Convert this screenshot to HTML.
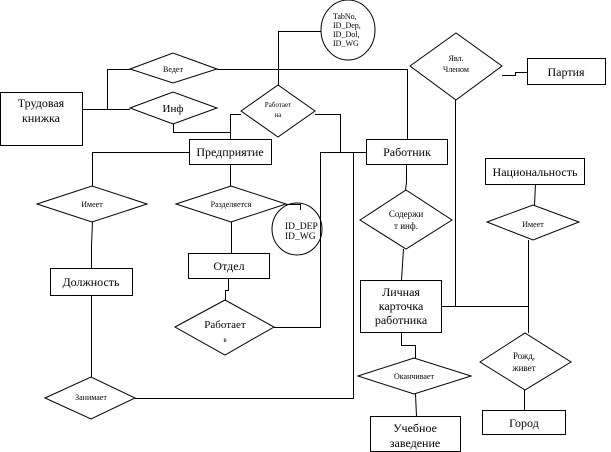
<!DOCTYPE html>
<html><head><meta charset="utf-8"><style>
html,body{margin:0;padding:0;background:#fff;}
svg{display:block;font-family:"Liberation Serif","DejaVu Serif",serif;}
text{font-family:"Liberation Serif","DejaVu Serif",serif;}
</style></head><body>
<svg width="611" height="452" viewBox="0 0 611 452" xmlns="http://www.w3.org/2000/svg">
<g fill="none" stroke="#000" stroke-width="1">
<rect x="0.5" y="92.5" width="82" height="53"/>
<rect x="189.5" y="139.5" width="82" height="25"/>
<rect x="366.5" y="139.5" width="81" height="25"/>
<rect x="527.5" y="58.5" width="78" height="26"/>
<rect x="485.5" y="158.5" width="99" height="26"/>
<rect x="188.5" y="253.5" width="81" height="25"/>
<rect x="50.5" y="268.5" width="82" height="27"/>
<rect x="360.5" y="280.5" width="81" height="52"/>
<rect x="370.5" y="416.5" width="90" height="35"/>
<rect x="482.5" y="410.5" width="83" height="24"/>
<ellipse cx="348" cy="30" rx="27" ry="30"/>
<ellipse cx="297" cy="229" rx="25" ry="26"/>
<polygon points="130,69 173,53 217,69 173,83"/>
<polygon points="130,108 173,92 217,108 173,124"/>
<polygon points="241,111 278,85 315,111 278,137"/>
<polygon points="410,66 456,33 502,66 456,100"/>
<polygon points="37,204 92,186 147,204 92,222"/>
<polygon points="176,204 231,186 286,204 231,222"/>
<polygon points="360,220 406,190 452,220 406,249"/>
<polygon points="487,222 533,205 579,222 533,240"/>
<polygon points="175,327 225,300 274,327 225,355"/>
<polygon points="45,398 91,377 135,398 91,419"/>
<polygon points="358,376 414,358 471,376 414,394"/>
<polygon points="480,362 525,333 571,362 525,390"/>
<polyline points="82.5,109.5 107.5,109.5 107.5,69.5 130,69.5"/>
<polyline points="107.5,109.5 130,109.5"/>
<polyline points="173.5,124 173.5,132.5 230.5,132.5"/>
<polyline points="217,69.5 407.5,69.5 407.5,139"/>
<polyline points="278.5,85 278.5,31.5 321,31.5"/>
<polyline points="241,114.5 230.5,114.5 230.5,139"/>
<polyline points="315,114.5 340.5,114.5 340.5,152.5"/>
<polyline points="366,152.5 320.5,152.5 320.5,327.5 274,327.5"/>
<polyline points="340.5,152.5 353.5,152.5 353.5,398.5 135,398.5"/>
<polyline points="189,152.5 92.5,152.5 92.5,186"/>
<polyline points="230.5,164 230.5,186"/>
<polyline points="286,204.5 300.5,204.5 300.5,210"/>
<polyline points="92.5,222 91.5,245 91.5,268"/>
<polyline points="231.5,222 231.5,253"/>
<polyline points="228.5,278 228.5,290.5 225.5,290.5 225.5,300"/>
<polyline points="91.5,295 91.5,377"/>
<polyline points="502,75.5 515.5,75.5 515.5,72.5 527,72.5"/>
<polyline points="455.5,100 455.5,306.5"/>
<polyline points="441,306.5 528.5,306.5 528.5,240"/>
<polyline points="535.5,184 534.5,205"/>
<polyline points="406.5,164 406.5,182 405.5,190"/>
<polyline points="403.5,249 401.5,280"/>
<polyline points="401.5,332 401.5,345.5 415.5,345.5 415.5,358"/>
<polyline points="415.5,394 416.5,416"/>
<polyline points="528.5,306.5 528.5,333"/>
<polyline points="524.5,390 524.5,410"/>
</g>
<g fill="#000" text-anchor="middle" font-size="12" font-family="Liberation Serif, serif">
<text x="41" y="107">Трудовая</text>
<text x="41" y="122">книжка</text>
<text x="230" y="156">Предприятие</text>
<text x="407" y="156">Работник</text>
<text x="566" y="76">Партия</text>
<text x="535" y="176">Национальность</text>
<text x="229" y="270">Отдел</text>
<text x="91" y="286">Должность</text>
<text x="401" y="296">Личная</text>
<text x="401" y="310">карточка</text>
<text x="401" y="324">работника</text>
<text x="415" y="432">Учебное</text>
<text x="415" y="447">заведение</text>
<text x="524" y="427">Город</text>
<text x="173" y="112" font-size="11">Инф</text>
<text x="225" y="328" font-size="11">Работает</text>
<text x="225" y="342" font-size="7">в</text>
<text x="406" y="217" font-size="9">Содержи</text>
<text x="406" y="229" font-size="9">т инф.</text>
<text x="524" y="359" font-size="9">Рожд,</text>
<text x="524" y="371" font-size="9">живет</text>
</g>
<g fill="#000" text-anchor="middle" font-size="8" font-family="Liberation Serif, serif">
<text x="173" y="72">Ведет</text>
<text x="278" y="107" font-size="7">Работает</text>
<text x="278" y="117" font-size="7">на</text>
<text x="456" y="61">Явл.</text>
<text x="456" y="72">Членом</text>
<text x="92" y="207">Имеет</text>
<text x="231" y="207">Разделяется</text>
<text x="533" y="227">Имеет</text>
<text x="91" y="400">Занимает</text>
<text x="414" y="379">Оканчивает</text>
</g>
<g fill="#000" font-size="8" text-anchor="start" font-family="Liberation Serif, serif">
<text x="333" y="19">TabNo,</text>
<text x="333" y="28">ID_Dep,</text>
<text x="333" y="37">ID_Dol,</text>
<text x="333" y="46">ID_WG</text>
<text x="285" y="229" font-size="9.5">ID_DEP</text>
<text x="285" y="239" font-size="9.5">ID_WG</text>
</g>
</svg>
</body></html>
